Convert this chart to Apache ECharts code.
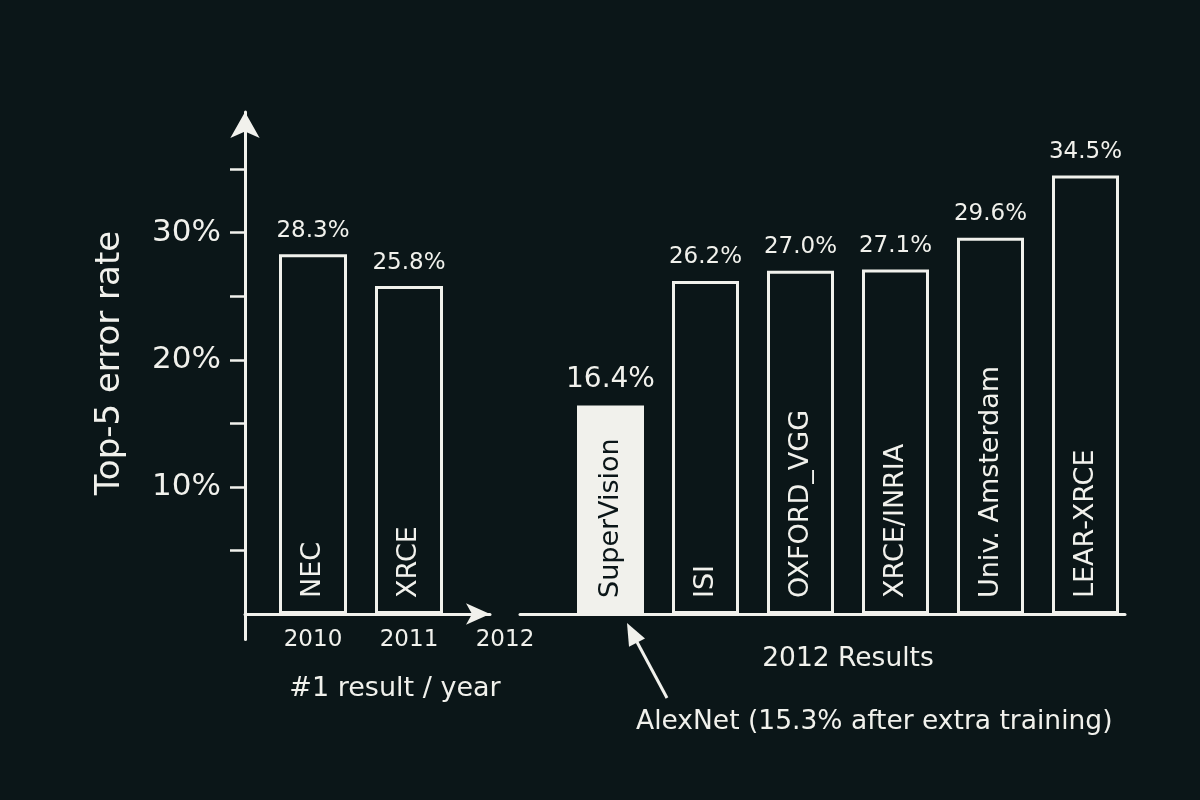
<!DOCTYPE html>
<html>
<head>
<meta charset="utf-8">
<script src="https://cdn.jsdelivr.net/npm/echarts@6/dist/echarts.min.js"></script>
<style>
html,body{margin:0;padding:0;background:#0b1618;}
#chart{width:1200px;height:800px;}
</style>
</head>
<body>
<div id="chart"></div>
<script>
// ---- data ----
const years = ['2010', '2011', '2012'];
const yearTeams = ['NEC', 'XRCE', ''];
const yearValues = [28.3, 25.8, null];
const teams2012 = ['SuperVision', 'ISI', 'OXFORD_VGG', 'XRCE/INRIA', 'Univ. Amsterdam', 'LEAR-XRCE'];
const values2012 = [16.4, 26.2, 27.0, 27.1, 29.6, 34.5];
const yTickValues = [5, 10, 15, 20, 25, 30, 35];
const yTickLabels = [10, 20, 30];

// ---- styles ----
const BG = '#0b1618';
const INK = '#f1f1ec';
const FONT = '"DejaVu Sans", "Open Sans", sans-serif';

const chart = echarts.init(document.getElementById('chart'), null, {renderer: 'canvas'});

const hiddenAxis = {show: false, min: 0, max: 39.5};
const valueLabel = {
  show: true, position: 'top', distance: 12, color: INK, fontFamily: FONT, fontSize: 23,
  formatter: p => (p.value == null ? '' : Number(p.value).toFixed(1) + '%')
};
const nameLabel = (names) => ({
  show: true, position: 'insideBottom', rotate: 90, align: 'left', verticalAlign: 'middle',
  distance: 16, color: INK, fontFamily: FONT, fontSize: 27,
  formatter: p => names[p.dataIndex]
});

const option = {
  backgroundColor: BG,
  animation: false,
  grid: [
    {left: 245, top: 112, width: 245, height: 527.4},   // left frame (axes with arrows)
    {left: 265, top: 112, width: 288, height: 502},     // left bars
    {left: 520, top: 112, width: 605, height: 502},     // right baseline
    {left: 563, top: 112, width: 570, height: 502}      // right bars
  ],
  xAxis: [
    {gridIndex: 0, type: 'value', min: 0, max: 1,
      axisLine: {show: true, onZero: true, symbol: ['none', 'arrow'], symbolSize: [16, 24], lineStyle: {color: INK, width: 3}},
      axisTick: {show: false}, axisLabel: {show: false}, splitLine: {show: false}},
    {gridIndex: 1, type: 'category', data: years,
      axisLine: {show: false}, axisTick: {show: false},
      axisLabel: {color: INK, fontFamily: FONT, fontSize: 23, margin: 15},
      name: '#1 result / year', nameLocation: 'middle', nameGap: 61,
      nameTextStyle: {color: INK, fontFamily: FONT, fontSize: 27, padding: [0, 28, 0, 0]}},
    {gridIndex: 2, type: 'value', min: 0, max: 1,
      axisLine: {show: true, lineStyle: {color: INK, width: 3}},
      axisTick: {show: false}, axisLabel: {show: false}, splitLine: {show: false}},
    {gridIndex: 3, type: 'category', data: teams2012,
      axisLine: {show: false}, axisTick: {show: false}, axisLabel: {show: false},
      name: '2012 Results', nameLocation: 'middle', nameGap: 32,
      nameTextStyle: {color: INK, fontFamily: FONT, fontSize: 26.5}}
  ],
  yAxis: [
    {gridIndex: 0, type: 'value', min: -2, max: 39.5,
      axisLine: {show: true, symbol: ['none', 'arrow'], symbolSize: [22, 26], lineStyle: {color: INK, width: 3}},
      axisTick: {show: false}, axisLabel: {show: false}, splitLine: {show: false}},
    {gridIndex: 1, type: 'value', min: 0, max: 39.5, interval: 5, offset: 20,
      axisLine: {show: false},
      axisTick: {show: true, length: 15, customValues: yTickValues, lineStyle: {color: INK, width: 2.5}},
      axisLabel: {color: INK, fontFamily: FONT, fontSize: 31, margin: 24, customValues: yTickLabels,
        formatter: v => (yTickLabels.indexOf(v) >= 0 ? v + '%' : '')},
      splitLine: {show: false},
      name: 'Top-5 error rate', nameLocation: 'middle', nameGap: 118, nameRotate: 90,
      nameTextStyle: {color: INK, fontFamily: FONT, fontSize: 34}},
    Object.assign({gridIndex: 2, type: 'value'}, hiddenAxis),
    Object.assign({gridIndex: 3, type: 'value'}, hiddenAxis)
  ],
  series: [
    {type: 'bar', xAxisIndex: 1, yAxisIndex: 1, data: yearValues, barWidth: 68, barGap: '-100%',
      itemStyle: {color: BG, borderColor: INK, borderWidth: 3},
      label: valueLabel, z: 2},
    {type: 'bar', xAxisIndex: 1, yAxisIndex: 1, data: yearValues, barWidth: 68, barGap: '-100%',
      itemStyle: {color: 'transparent', borderWidth: 0},
      label: nameLabel(yearTeams), z: 3},
    {type: 'bar', xAxisIndex: 3, yAxisIndex: 3, barWidth: 67, barGap: '-100%',
      data: values2012.map((v, i) => i === 0
        ? {value: v, itemStyle: {color: INK}, label: {fontSize: 28}}
        : v),
      itemStyle: {color: BG, borderColor: INK, borderWidth: 3},
      label: valueLabel, z: 2},
    {type: 'bar', xAxisIndex: 3, yAxisIndex: 3, barWidth: 67, barGap: '-100%',
      data: values2012.map((v, i) => i === 0 ? {value: v, label: {color: BG}} : v),
      itemStyle: {color: 'transparent', borderWidth: 0},
      label: nameLabel(teams2012), z: 3}
  ],
  graphic: [
    {type: 'line', shape: {x1: 667, y1: 698, x2: 637, y2: 642},
      style: {stroke: INK, lineWidth: 3}},
    {type: 'polygon', shape: {points: [[627, 623], [645, 638.5], [629, 646.7]]},
      style: {fill: INK}},
    {type: 'text', left: 636, top: 709,
      style: {text: 'AlexNet (15.3% after extra training)', fill: INK, font: '26.5px ' + FONT}}
  ]
};
chart.setOption(option);
</script>
</body>
</html>
